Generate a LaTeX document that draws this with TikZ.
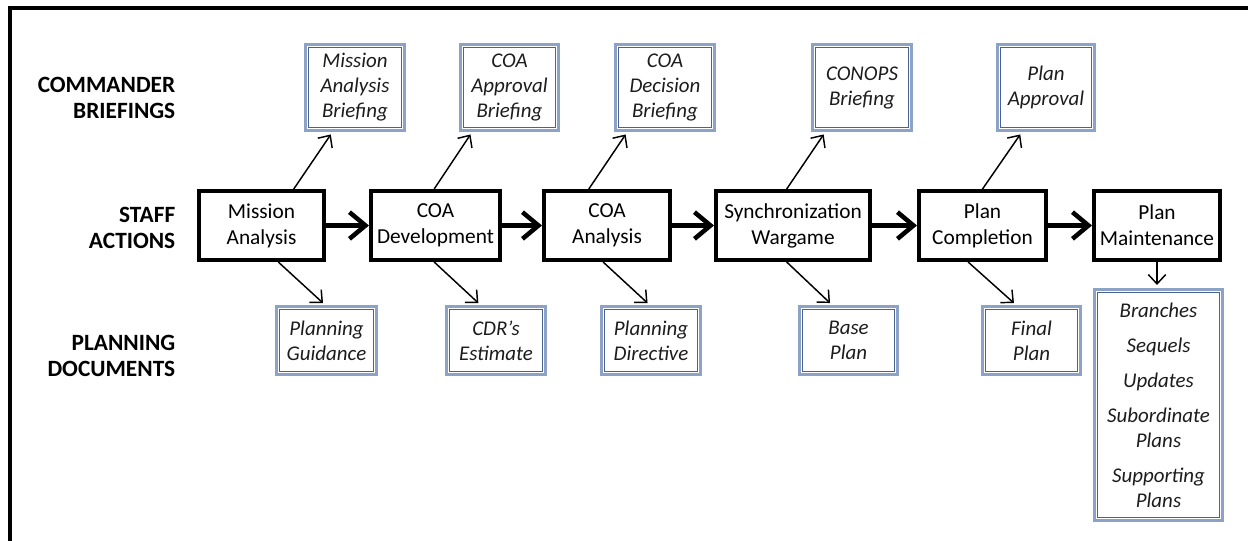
\documentclass[tikz,border=0pt]{standalone}
\usepackage{fontspec}
\setmainfont{Carlito}
\usetikzlibrary{arrows.meta,calc}
\definecolor{bLight}{RGB}{140,162,198}
\definecolor{bDark}{RGB}{72,100,148}
\definecolor{txt}{RGB}{28,28,28}
\begin{document}
\begin{tikzpicture}[x=0.75pt,y=-0.75pt,
  staffbox/.style={draw=black,line width=3pt,align=center,inner sep=0pt,
    minimum height=51.75pt,font=\fontsize{16}{19.5}\selectfont},
  docbox/.style={draw=bLight,line width=1.8pt,align=center,inner sep=0pt,
    text=txt,font=\fontsize{15.7}{18.75}\selectfont\itshape,
    path picture={\draw[bDark,line width=0.9pt]
      ([shift={(2.1pt,2.1pt)}]path picture bounding box.south west) rectangle
      ([shift={(-2.1pt,-2.1pt)}]path picture bounding box.north east);}},
  briefbox/.style={docbox,minimum height=64.5pt},
  planbox/.style={docbox,minimum height=51pt},
  rowlabel/.style={anchor=east,align=right,inner sep=0pt,
    font=\fontsize{17.5}{19.5}\selectfont\bfseries},
  bigarrow/.style={line width=3.4pt,-{Straight Barb[length=12pt,width=20pt]}},
  thinarrow/.style={line width=1.1pt,-{Straight Barb[length=7pt,width=13pt]},shorten >=2.5pt},
]
\useasboundingbox (0,0) rectangle (1248,540);
\clip (0,0) rectangle (1248,540);
\draw[line width=3pt] (9.5,700) -- (9.5,7.5) -- (1400,7.5);

% row labels
\node[rowlabel] (lc) at (175.5,98) {COMMANDER\\BRIEFINGS};
\node[rowlabel] (ls) at (175.5,228) {STAFF\\ACTIONS};
\node[rowlabel] (lp) at (175.5,355.5) {PLANNING\\DOCUMENTS};

% staff actions
\node[staffbox,minimum width=93.75pt] (ma) at (261.5,225.5) {Mission\\Analysis};
\node[staffbox,minimum width=96.75pt] (cd) at (435.5,225.5) {COA\\Development};
\node[staffbox,minimum width=94.5pt]  (ca) at (607,225.5) {COA\\Analysis};
\node[staffbox,minimum width=115.5pt] (sw) at (793,225.5) {Synchronization\\Wargame};
\node[staffbox,minimum width=95.25pt] (pc) at (982.5,225.5) {Plan\\Completion};
\node[staffbox,minimum width=94.5pt]  (pm) at (1157,225.5) {Plan\\Maintenance};

% commander briefings
\node[briefbox,minimum width=74.25pt] (b1) at (355,87.5) {Mission\\Analysis\\Briefing};
\node[briefbox,minimum width=73.5pt]  (b2) at (509.5,87.5) {COA\\Approval\\Briefing};
\node[briefbox,minimum width=74.25pt] (b3) at (665,87.5) {COA\\Decision\\Briefing};
\node[briefbox,minimum width=74.25pt] (b4) at (862,87.5) {CONOPS\\Briefing};
\node[briefbox,minimum width=72.75pt] (b5) at (1046,87.5) {Plan\\Approval};

% planning documents
\node[planbox,minimum width=75pt]    (d1) at (326.5,340.5) {Planning\\Guidance};
\node[planbox,minimum width=74.25pt] (d2) at (496,340.5) {CDR’s\\Estimate};
\node[planbox,minimum width=74.25pt] (d3) at (651,340.5) {Planning\\Directive};
\node[planbox,minimum width=73.5pt]  (d4) at (848.5,340.5) {Base\\Plan};
\node[planbox,minimum width=73.5pt]  (d5) at (1031.5,340.5) {Final\\Plan};
\node[docbox,minimum width=96pt,minimum height=173.25pt] (d6) at (1158.5,405)
  {Branches\\[7.5pt]Sequels\\[7.5pt]Updates\\[7.5pt]Subordinate\\Plans\\[7.5pt]Supporting\\Plans};

% main flow
\draw[bigarrow] (ma) -- (cd);
\draw[bigarrow] (cd) -- (ca);
\draw[bigarrow] (ca) -- (sw);
\draw[bigarrow] (sw) -- (pc);
\draw[bigarrow] (pc) -- (pm);

% up to briefings
\draw[thinarrow] ($(ma.north west)!0.75!(ma.north east)$) -- ($(b1.south west)!0.28!(b1.south east)$);
\draw[thinarrow] ($(cd.north west)!0.49!(cd.north east)$) -- ($(b2.south west)!0.13!(b2.south east)$);
\draw[thinarrow] ($(ca.north west)!0.36!(ca.north east)$) -- ($(b3.south west)!0.13!(b3.south east)$);
\draw[thinarrow] ($(sw.north west)!0.46!(sw.north east)$) -- ($(b4.south west)!0.14!(b4.south east)$);
\draw[thinarrow] ($(pc.north west)!0.50!(pc.north east)$) -- ($(b5.south west)!0.26!(b5.south east)$);

% down to documents
\draw[thinarrow] ($(ma.south west)!0.63!(ma.south east)$) -- ($(d1.north west)!0.49!(d1.north east)$);
\draw[thinarrow] ($(cd.south west)!0.49!(cd.south east)$) -- ($(d2.north west)!0.35!(d2.north east)$);
\draw[thinarrow] ($(ca.south west)!0.47!(ca.south east)$) -- ($(d3.north west)!0.49!(d3.north east)$);
\draw[thinarrow] ($(sw.south west)!0.46!(sw.south east)$) -- ($(d4.north west)!0.34!(d4.north east)$);
\draw[thinarrow] ($(pc.south west)!0.39!(pc.south east)$) -- ($(d5.north west)!0.35!(d5.north east)$);
\draw[thinarrow] (pm.south) -- (pm.south |- d6.north);
\end{tikzpicture}
\end{document}
